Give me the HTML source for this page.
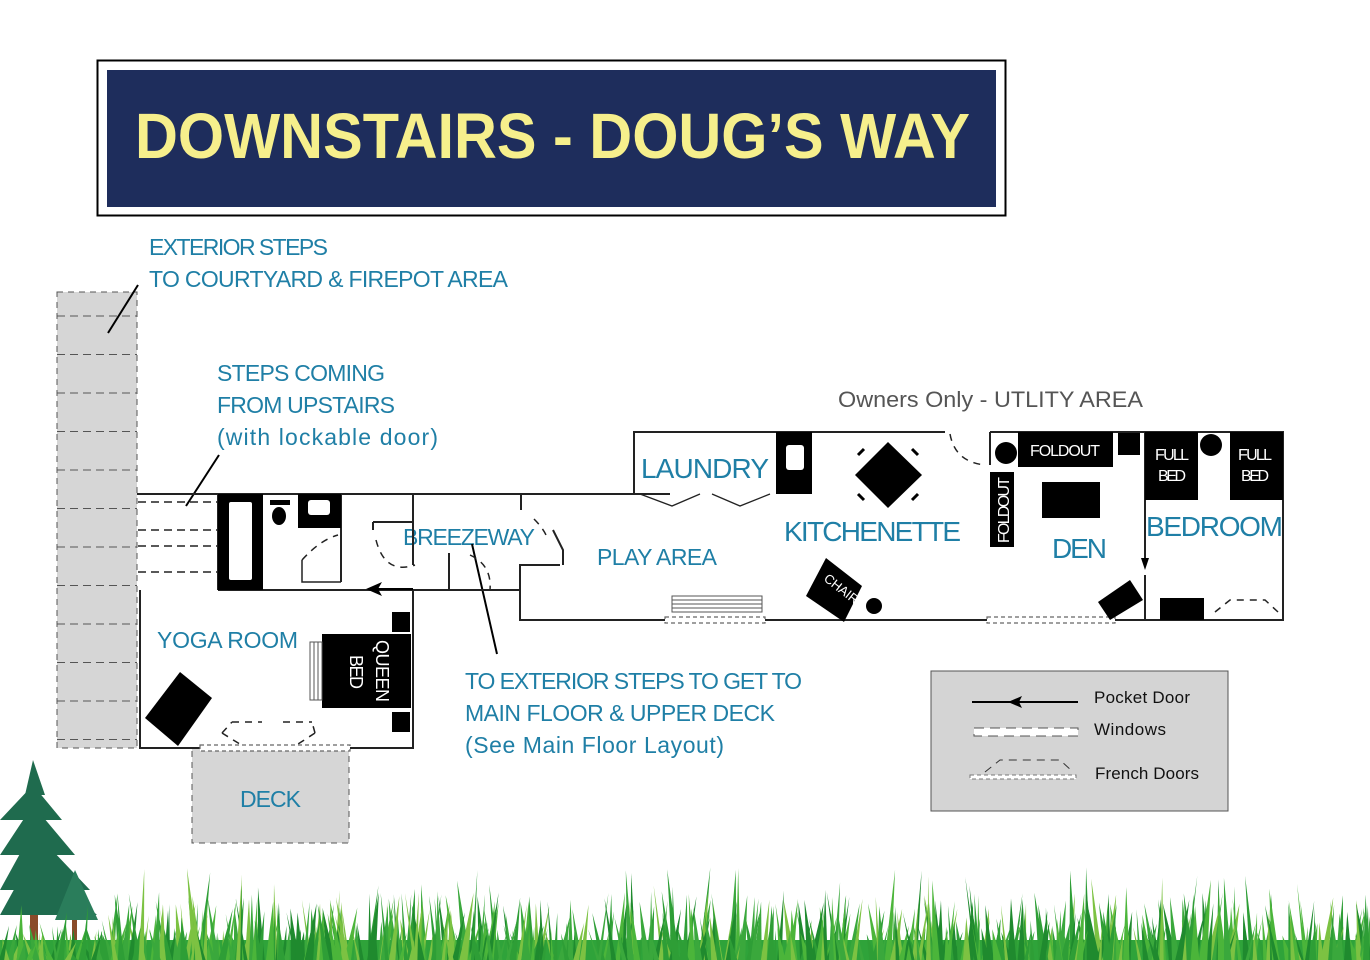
<!DOCTYPE html>
<html><head><meta charset="utf-8"><style>
body{margin:0;background:#fff}
svg{display:block}
text{font-family:"Liberation Sans",sans-serif}
.b{fill:#1f7fa6}
</style></head><body>
<svg id="s" width="1370" height="960" viewBox="0 0 1370 960" xmlns="http://www.w3.org/2000/svg">
<rect width="1370" height="960" fill="#fff"/>
<!-- title -->
<rect x="97.5" y="60.5" width="908" height="155" fill="#fff" stroke="#000" stroke-width="2"/>
<rect x="107" y="70" width="889" height="137" fill="#1e2d5c"/>
<text x="135" y="158" font-size="64" font-weight="bold" fill="#f6ef8c" textLength="835" lengthAdjust="spacingAndGlyphs">DOWNSTAIRS - DOUG’S WAY</text>
<!-- stairs strip -->
<rect x="57" y="292" width="80" height="456" fill="#d6d6d6" stroke="#555" stroke-dasharray="6,5"/>
<g id="stairs" stroke="#555" stroke-dasharray="8,5"></g>
<!-- deck -->
<rect x="192" y="748" width="157" height="95" fill="#d6d6d6" stroke="#555" stroke-dasharray="6,5"/>
<!-- labels -->
<g class="b" font-size="23" lengthAdjust="spacingAndGlyphs">
<text x="149" y="255" textLength="179">EXTERIOR STEPS</text>
<text x="149" y="287" textLength="359">TO COURTYARD &amp; FIREPOT AREA</text>
<text x="217" y="381" textLength="168">STEPS COMING</text>
<text x="217" y="413" textLength="178">FROM UPSTAIRS</text>
<text x="217" y="445" textLength="221">(with lockable door)</text>
<text x="465" y="689" textLength="337">TO EXTERIOR STEPS TO GET TO</text>
<text x="465" y="721" textLength="310">MAIN FLOOR &amp; UPPER DECK</text>
<text x="465" y="753" textLength="259">(See Main Floor Layout)</text>
<text x="403" y="545" textLength="132">BREEZEWAY</text>
<text x="597" y="565" textLength="120">PLAY AREA</text>
<text x="641" y="478" font-size="28" textLength="128">LAUNDRY</text>
<text x="784" y="541" font-size="28" textLength="177">KITCHENETTE</text>
<text x="1052" y="558" font-size="28" textLength="55">DEN</text>
<text x="1146" y="536" font-size="28" textLength="137">BEDROOM</text>
<text x="157" y="648" textLength="141">YOGA ROOM</text>
<text x="240" y="807" textLength="61">DECK</text>
</g>
<text x="838" y="407" font-size="22" fill="#555" textLength="305" lengthAdjust="spacingAndGlyphs">Owners Only - UTLITY AREA</text>
<line x1="108" y1="333" x2="138" y2="285" stroke="#000" stroke-width="2"/>
<line x1="186" y1="506" x2="219" y2="455" stroke="#000" stroke-width="2"/>
<line x1="472" y1="544" x2="497" y2="654" stroke="#000" stroke-width="2"/>
<!-- walls -->
<g fill="none" stroke="#222" stroke-width="2">
<polyline points="137,494 634,494 634,432 945,432"/>
<polyline points="990,432 1283,432 1283,620 1115,620"/>
<polyline points="987,620 765,620"/>
<polyline points="665,620 520,620 520,565 560,565"/>
<polyline points="140,590 140,748 413,748 413,590 218,590"/>
<line x1="413" y1="494" x2="413" y2="565"/>
<line x1="413" y1="590" x2="520" y2="590"/>
<line x1="449" y1="590" x2="449" y2="553"/>
<line x1="521" y1="494" x2="521" y2="510"/>
<line x1="634" y1="494" x2="670" y2="494"/>
<line x1="1145" y1="432" x2="1145" y2="560"/>
<line x1="1145" y1="575" x2="1145" y2="620"/>
<line x1="341" y1="494" x2="341" y2="582"/>
<line x1="218" y1="494" x2="218" y2="590"/>
<line x1="810" y1="494" x2="810" y2="432"/>
<path d="M373 522 L373 530 M373 522 L413 522" />
<path d="M553 530 L563 550 L563 565"/>
<path d="M990 465 L990 432"/>
</g>
<g fill="none" stroke="#222" stroke-width="1.5" stroke-dasharray="7,6">
<path d="M376 540 Q385 575 415 565"/>
<path d="M302 560 Q320 540 338 535"/>
<path d="M470 555 Q492 565 490 590"/>
<path d="M534 519 Q545 530 548 540"/>
<path d="M950 434 Q955 462 985 465"/>
<path d="M138 502 L218 502 M138 530 L218 530 M138 546 L218 546 M138 572 L218 572" stroke-dasharray="8,5"/>
<path d="M222 733 L243 746 M232 722 L262 722 M283 722 L312 722 M315 733 L295 746 M222 733 L232 722 M315 733 L312 722"/>
<path d="M1215 612 L1230 600 L1265 600 L1278 612"/>
</g>
<path d="M302 560 L302 582 L341 582" fill="none" stroke="#222" stroke-width="1.5"/>
<path d="M640 494 L672 506 L700 494 M712 494 L740 506 L770 494" fill="none" stroke="#222" stroke-width="1.3"/>
<!-- windows on bottom -->
<g fill="#fff" stroke="#666" stroke-width="1.2" stroke-dasharray="4,3">
<rect x="665" y="617" width="100" height="6"/>
<rect x="987" y="617" width="128" height="6"/>
<rect x="200" y="745" width="150" height="6"/>
</g>
<!-- arrows (pocket doors) -->
<line x1="370" y1="589" x2="413" y2="589" stroke="#000" stroke-width="2"/>
<path d="M366 589 L382 582 L378 589 L382 596Z"/>
<line x1="1145" y1="545" x2="1145" y2="566"/>
<path d="M1145 570 L1141 558 L1149 558Z"/>
<!-- furniture -->
<g fill="#000">
<rect x="218" y="494" width="45" height="96"/>
<rect x="298" y="494" width="43" height="34"/>
<rect x="270" y="500" width="20" height="5"/>
<ellipse cx="279" cy="516" rx="7" ry="9"/>
<rect x="776" y="432" width="36" height="62"/>
<polygon points="888,442 922,475 888,508 855,475"/>
<rect x="1018" y="432" width="95" height="35"/>
<rect x="1118" y="433" width="22" height="22"/>
<circle cx="1006" cy="453" r="11"/>
<rect x="990" y="472" width="24" height="75"/>
<rect x="1042" y="482" width="58" height="36"/>
<rect x="1145" y="432" width="53" height="68"/>
<rect x="1230" y="432" width="53" height="68"/>
<circle cx="1211" cy="445" r="11"/>
<rect x="1160" y="598" width="44" height="22"/>
<polygon points="1098,602 1130,580 1143,600 1110,620"/>
<polygon points="826,558 862,586 844,622 806,596"/>
<circle cx="874" cy="606" r="8"/>
<rect x="322" y="634" width="89" height="74"/>
<rect x="392" y="612" width="18" height="20"/>
<rect x="392" y="712" width="18" height="20"/>
<polygon points="145,718 180,672 212,698 178,746"/>
</g>
<g stroke="#000" stroke-width="3"><line x1="858" y1="455" x2="864" y2="449"/><line x1="912" y1="449" x2="918" y2="455"/><line x1="858" y1="494" x2="864" y2="500"/><line x1="912" y1="500" x2="918" y2="494"/></g>
<rect x="229" y="502" width="23" height="78" fill="#fff" rx="2"/>
<rect x="308" y="500" width="22" height="15" fill="#fff" rx="3"/>
<rect x="786" y="445" width="18" height="25" fill="#fff" rx="3"/>
<g stroke="#555" fill="none"><rect x="310" y="642" width="12" height="58"/><rect x="672" y="596" width="90" height="16"/><path d="M672 600 H762 M672 604 H762 M672 608 H762 M314 642 V700 M318 642 V700"/></g>
<g fill="#fff" font-size="16" lengthAdjust="spacingAndGlyphs">
<text x="1030" y="456" textLength="70">FOLDOUT</text>
<text x="1155" y="460" textLength="34">FULL</text><text x="1158" y="481" textLength="28">BED</text>
<text x="1238" y="460" textLength="34">FULL</text><text x="1241" y="481" textLength="28">BED</text>
<text transform="translate(1009,543) rotate(-90)" textLength="66">FOLDOUT</text>
<text transform="translate(823,580) rotate(38)" font-size="13" textLength="40">CHAIR</text>
<text transform="translate(376,640) rotate(90)" font-size="18" textLength="62">QUEEN</text>
<text transform="translate(350,655) rotate(90)" font-size="18" textLength="34">BED</text>
</g>
<!-- legend -->
<rect x="931" y="671" width="297" height="140" fill="#d4d4d4" stroke="#555"/>
<line x1="972" y1="702" x2="1078" y2="702" stroke="#000" stroke-width="2"/>
<path d="M1008 702 L1022 696 L1019 702 L1022 708Z"/>
<rect x="974" y="728" width="104" height="8" fill="#fff" stroke="#555" stroke-dasharray="10,6"/>
<path d="M985 772 L1000 760 L1060 760 L1073 772" fill="none" stroke="#333" stroke-dasharray="8,6"/>
<rect x="970" y="775" width="106" height="4" fill="#fff" stroke="#777" stroke-dasharray="4,3"/>
<g font-size="17" fill="#111" lengthAdjust="spacingAndGlyphs"><text x="1094" y="703" textLength="96">Pocket Door</text><text x="1094" y="735" textLength="72">Windows</text><text x="1095" y="779" textLength="104">French Doors</text></g>
<!-- tree -->
<g fill="#1f6b4e">
<rect x="30" y="850" width="8" height="95" fill="#8a4b2a"/>
<polygon points="33,760 45,795 25,795"/>
<polygon points="33,785 62,820 0,820"/>
<polygon points="33,805 75,855 0,855"/>
<polygon points="33,830 90,890 0,890"/>
<polygon points="33,855 97,915 0,915"/>
<rect x="72" y="905" width="5" height="40" fill="#8a4b2a"/>
<polygon points="75,870 98,920 55,920" fill="#2a7d5b"/>
</g>
<g id="grass"></g>
</svg>
<script>
var st=document.getElementById('stairs'),h='';
for(var y=316;y<748;y+=38.5){h+='<line x1="57" y1="'+y+'" x2="137" y2="'+y+'"/>';}
st.innerHTML=h;
var g=document.getElementById('grass'),s='<rect x="0" y="940" width="1370" height="20" fill="#2fa33a"/>';
var seed=7;function r(){seed=(seed*9301+49297)%233280;return seed/233280;}
var cols=['#2e9e36','#4bb53a','#7cc242','#1f8a2e','#3aa83c'];
for(var i=0;i<650;i++){var x=r()*1390-10,base=962,ht=25+r()*45;if(r()<0.12)ht+=25;if(x<100)ht*=0.6;var w=3+r()*6,lean=(r()-0.5)*22;
s+='<polygon fill="'+cols[i%5]+'" points="'+(x)+','+base+' '+(x+w)+','+base+' '+(x+w/2+lean)+','+(base-ht)+'"/>';}
g.innerHTML=s;
</script>
</body></html>
